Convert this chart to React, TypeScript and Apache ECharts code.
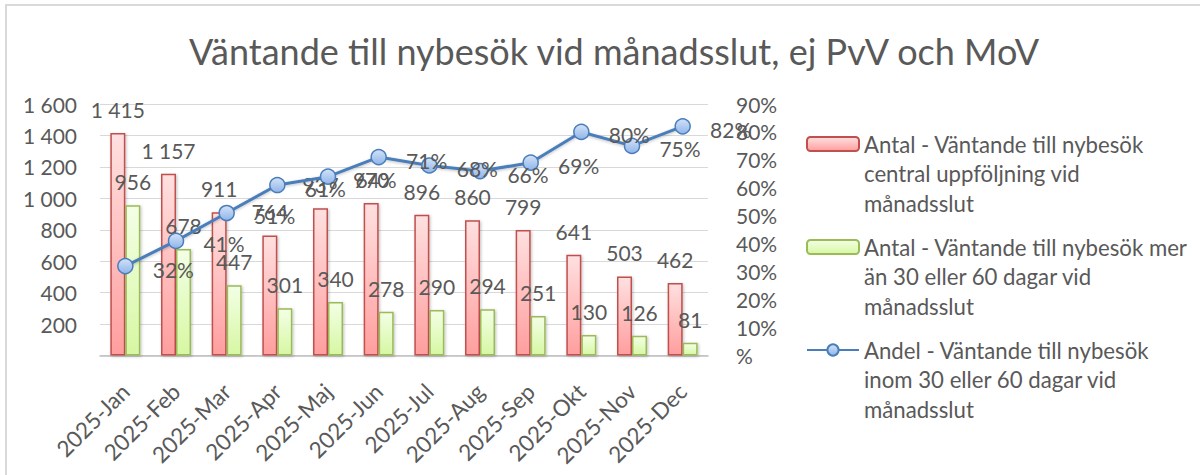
import React, { useEffect, useRef } from "react";
import * as echarts from "echarts";

const categories = ["2025-Jan", "2025-Feb", "2025-Mar", "2025-Apr", "2025-Maj", "2025-Jun", "2025-Jul", "2025-Aug", "2025-Sep", "2025-Okt", "2025-Nov", "2025-Dec"];
const antalCentral = [1415, 1157, 911, 764, 937, 970, 896, 860, 799, 641, 503, 462];
const antalOver = [956, 678, 447, 301, 340, 278, 290, 294, 251, 130, 126, 81];
const andelInom = [32, 41, 51, 61, 64, 71, 68, 66, 69, 80, 75, 82];

const nameCentral = "Antal - Väntande till nybesök central uppföljning vid månadsslut";
const nameOver = "Antal - Väntande till nybesök mer än 30 eller 60 dagar vid månadsslut";
const nameAndel = "Andel - Väntande till nybesök inom 30 eller 60 dagar vid månadsslut";
const legendText: Record<string, string> = {
  [nameCentral]: "\n\nAntal - Väntande till nybesök\ncentral uppföljning vid\nmånadsslut",
  [nameOver]: "\n\nAntal - Väntande till nybesök mer\nän 30 eller 60 dagar vid\nmånadsslut",
  [nameAndel]: "\n\nAndel - Väntande till nybesök\ninom 30 eller 60 dagar vid\nmånadsslut",
};

const FONT = "Lato";
const GRAY = "#595959";
const NUM_SIZE = 21;
const fmtNum = (v: number) => String(v).replace(/\B(?=(\d{3})+(?!\d))/g, " ");

export default function App() {
  const ref = useRef<HTMLDivElement>(null);
  useEffect(() => {
    document.body.style.margin = "0";
    const chart = echarts.init(ref.current!, null, { renderer: "svg" });
    const LH = 29.5;
    const legendBase = (name: string, iconCenter: number) => ({
      data: [name],
      orient: "vertical",
      left: 806,
      top: iconCenter - 2.5 * LH,
      itemWidth: 52,
      itemHeight: 14,
      itemGap: 0,
      padding: 0,
      selectedMode: false,
      formatter: (n: string) => legendText[n],
      textStyle: {
        fontFamily: FONT,
        fontSize: 22.2,
        color: GRAY,
        lineHeight: LH,
      },
    });
    const option: any = {
      animation: false,
      backgroundColor: "#ffffff",
      textStyle: { fontFamily: FONT },
      title: {
        text: "Väntande till nybesök vid månadsslut, ej PvV och MoV",
        left: 609,
        textAlign: "center",
        top: 28,
        textStyle: { fontFamily: FONT, fontSize: 36, fontWeight: "normal", color: GRAY },
      },
      graphic: [
        {
          type: "rect",
          shape: { x: 6, y: 5, width: 1400, height: 700 },
          style: { fill: "none", stroke: "#d9d9d9", lineWidth: 2 },
          silent: true,
        },
      ],
      legend: [
        legendBase(nameCentral, 144),
        legendBase(nameOver, 247),
        legendBase(nameAndel, 350),
      ],
      grid: { left: 100, right: 492, top: 104, bottom: 119.5, containLabel: false },
      xAxis: {
        type: "category",
        data: categories,
        axisTick: { show: false },
        axisLine: { lineStyle: { color: "#bfbfbf", width: 1.5 } },
        axisLabel: { rotate: 45, fontSize: 22.5, color: GRAY, fontFamily: FONT, margin: 32 },
      },
      yAxis: [
        {
          type: "value",
          min: 0,
          max: 1600,
          interval: 200,
          axisLine: { show: false },
          axisTick: { show: false },
          splitLine: { lineStyle: { color: "#d9d9d9", width: 1.2 } },
          axisLabel: {
            fontSize: NUM_SIZE,
            color: GRAY,
            fontFamily: FONT,
            margin: 23,
            formatter: (v: number) => (v === 0 ? "" : fmtNum(v)),
          },
        },
        {
          type: "value",
          min: 0,
          max: 90,
          interval: 10,
          position: "right",
          axisLine: { show: false },
          axisTick: { show: false },
          splitLine: { show: false },
          axisLabel: {
            fontSize: NUM_SIZE,
            color: GRAY,
            fontFamily: FONT,
            margin: 28,
            formatter: (v: number) => (v === 0 ? "%" : v + "%"),
          },
        },
      ],
      series: [
        {
          name: nameCentral,
          type: "bar",
          data: antalCentral,
          barWidth: 15,
          barGap: "0%",
          itemStyle: {
            color: new echarts.graphic.LinearGradient(0, 0, 0, 1, [
              { offset: 0, color: "#ffe0e0" },
              { offset: 1, color: "#ff9e9e" },
            ]),
            borderColor: "#c0504d",
            borderWidth: 1.5,
            shadowColor: "rgba(0,0,0,0.25)",
            shadowBlur: 3,
            shadowOffsetX: 1,
            shadowOffsetY: 1,
          },
          label: {
            show: true,
            position: "top",
            distance: 13,
            fontSize: NUM_SIZE,
            color: GRAY,
            fontFamily: FONT,
            formatter: (p: any) => fmtNum(p.value),
          },
        },
        {
          name: nameOver,
          type: "bar",
          data: antalOver,
          barWidth: 15,
          barGap: "0%",
          itemStyle: {
            color: new echarts.graphic.LinearGradient(0, 0, 0, 1, [
              { offset: 0, color: "#f3ffe6" },
              { offset: 1, color: "#d7f7a3" },
            ]),
            borderColor: "#9bbb59",
            borderWidth: 1.5,
            shadowColor: "rgba(0,0,0,0.25)",
            shadowBlur: 3,
            shadowOffsetX: 1,
            shadowOffsetY: 1,
          },
          label: {
            show: true,
            position: "top",
            distance: 13,
            fontSize: NUM_SIZE,
            color: GRAY,
            fontFamily: FONT,
            formatter: (p: any) => fmtNum(p.value),
          },
        },
        {
          name: nameAndel,
          type: "line",
          yAxisIndex: 1,
          data: andelInom,
          symbol: "circle",
          symbolSize: 15,
          lineStyle: {
            color: "#4a7ebb",
            width: 3,
            shadowColor: "rgba(0,0,0,0.25)",
            shadowBlur: 3,
            shadowOffsetY: 1,
          },
          itemStyle: {
            color: new echarts.graphic.LinearGradient(0, 0, 0, 1, [
              { offset: 0, color: "#d3e2f7" },
              { offset: 1, color: "#8fb5ea" },
            ]),
            borderColor: "#4a7ebb",
            borderWidth: 1.5,
          },
          label: {
            show: true,
            position: "inside",
            offset: [48, 3],
            fontSize: NUM_SIZE,
            color: GRAY,
            fontFamily: FONT,
            formatter: (p: any) => p.value + "%",
          },
          z: 5,
        },
      ],
    };
    chart.setOption(option);
    return () => chart.dispose();
  }, []);
  return <div ref={ref} style={{ width: 1200, height: 475 }} />;
}
